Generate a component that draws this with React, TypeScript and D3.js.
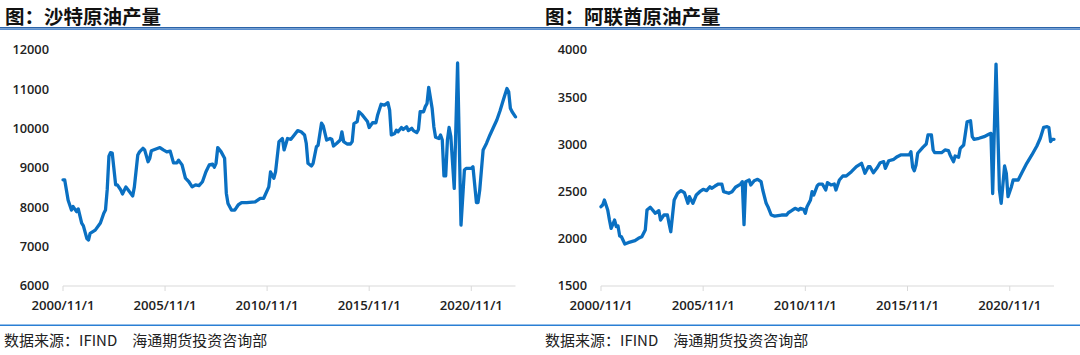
import React from "react";
import * as d3 from "d3";

// Month offsets from 2000/11 and values (千桶/日)
const saudiMonths = [0,1,3,5,6,8,9,11,12,14,15,16,19,22,24,25,26,27,28,29,31,32,34,35,37,39,41,42,44,45,47,48,50,51,52,57,59,61,63,65,67,68,70,72,74,76,78,80,82,84,86,88,89,90,91,93,95,96,97,99,101,103,105,108,113,116,118,121,122,124,125,127,129,130,132,134,136,138,140,142,143,144,146,147,149,150,152,153,155,157,158,159,161,163,164,165,167,169,170,171,173,174,176,179,180,182,184,185,187,189,191,192,193,195,196,197,199,200,202,203,205,206,208,209,210,212,213,214,215,217,218,219,221,222,223,224,225,226,227,228,230,232,234,236,237,240,241,243,244,245,247,249,251,253,255,257,259,261,262,263,264,266];
const saudiValues = [8700,8700,8180,7930,8020,7890,7960,7600,7530,7210,7170,7340,7420,7600,7850,7930,8450,9300,9390,9380,8570,8570,8440,8340,8520,8400,8290,8520,9330,9410,9500,9460,9160,9250,9440,9520,9460,9410,9430,9130,9130,9200,9080,8740,8650,8520,8570,8550,8650,8900,9080,9100,9020,9120,9520,9410,9250,8360,8100,7930,7930,8060,8120,8120,8140,8230,8230,8520,8900,8740,8900,9670,9750,9460,9750,9730,9840,9950,9920,9840,9630,9120,9050,9120,9540,9580,10140,10070,9710,9750,9730,9560,9630,9710,9920,9670,9610,9610,9670,10130,10180,10430,10350,10180,10030,10150,10150,10350,10620,10600,10660,10470,9840,9880,9960,9920,10030,9980,10050,9950,10010,9950,9900,9980,10430,10430,10560,10640,11050,10520,10050,9780,9750,9840,9710,8800,8800,9710,10030,9800,8480,11670,7550,8950,8990,8990,9030,8120,8120,8440,9460,9630,9840,10030,10220,10460,10750,11020,10940,10520,10430,10300];

const uaeMonths = [0,1,2,4,5,6,8,9,10,11,12,14,16,20,22,24,26,27,29,32,34,35,37,39,40,41,43,45,47,49,51,52,54,56,58,60,62,64,65,67,69,71,72,75,77,79,82,83,84,85,87,88,90,92,94,95,97,98,100,102,106,109,110,112,114,116,117,119,120,121,123,124,125,127,128,130,132,133,135,137,138,140,142,144,147,150,153,154,155,157,158,160,162,164,166,167,169,172,174,176,181,182,183,184,185,186,189,191,192,194,195,196,200,202,204,205,207,208,210,211,213,215,217,218,219,222,225,228,229,230,232,234,235,237,238,239,241,242,245,247,250,253,256,258,260,262,263,264,265,266];
const uaeValues = [2340,2358,2411,2305,2199,2111,2199,2130,2136,2030,2022,1945,1959,1980,2005,2022,2093,2305,2334,2270,2298,2199,2252,2252,2164,2075,2411,2482,2510,2488,2376,2446,2376,2464,2499,2524,2510,2552,2535,2559,2580,2580,2499,2482,2499,2546,2580,2605,2150,2605,2623,2570,2615,2630,2605,2517,2376,2340,2252,2241,2252,2252,2276,2298,2323,2305,2323,2312,2270,2340,2411,2499,2464,2560,2580,2580,2517,2594,2570,2580,2517,2623,2665,2665,2711,2764,2800,2747,2694,2764,2764,2700,2747,2806,2817,2747,2827,2842,2870,2888,2888,2923,2757,2721,2782,2906,2969,3004,3100,3100,2941,2912,2912,2941,2933,2888,2817,2877,2863,2958,2994,3240,3251,3082,3054,3065,3082,3110,3117,2480,3850,2517,2376,2771,2694,2446,2552,2623,2623,2694,2800,2888,2983,3065,3181,3188,3180,3030,3054,3054];

const saudiTicks = [6000, 7000, 8000, 9000, 10000, 11000, 12000];
const uaeTicks = [1500, 2000, 2500, 3000, 3500, 4000];
const xTickLabels = ["2000/11/1", "2005/11/1", "2010/11/1", "2015/11/1", "2020/11/1"];
const titles = ["图：沙特原油产量", "图：阿联酋原油产量"];
const footer = "数据来源：IFIND　海通期货投资咨询部";

const START = new Date(2000, 10, 1);
const END = new Date(2023, 0, 1);
const LINE_COLOR = "#0a70c2";
const AXIS_COLOR = "#d9d9d9";
const LABEL_FONT = "'Open Sans', 'DejaVu Sans', sans-serif";
const CJK_FONT = "'Noto Sans CJK SC', sans-serif";

function parseTick(s: string) {
  const [y, m, d] = s.split("/").map(Number);
  return new Date(y, m - 1, d);
}

type PanelProps = {
  x0: number;
  x1: number;
  months: number[];
  values: number[];
  ticks: number[];
  title: string;
  titleX: number;
};

function Panel({ x0, x1, months, values, ticks, title, titleX }: PanelProps) {
  const x = d3.scaleTime().domain([START, END]).range([x0, x1]);
  const y = d3
    .scaleLinear()
    .domain([ticks[0], ticks[ticks.length - 1]])
    .range([286, 50]);
  const pts: [Date, number][] = months.map((m, i) => [d3.timeMonth.offset(START, m), values[i]]);
  const line = d3
    .line<[Date, number]>()
    .x((d) => x(d[0]))
    .y((d) => y(d[1]));
  return (
    <g>
      <text x={titleX} y={24} fontFamily={CJK_FONT} fontWeight={700} fontSize={19.5} fill="#111">
        {title}
      </text>
      {ticks.map((t) => (
        <text
          key={t}
          x={x0 - 14}
          y={y(t)}
          dy="0.35em"
          textAnchor="end"
          fontFamily={LABEL_FONT}
          fontWeight={600}
          fontSize={12.8}
          fill="#222"
        >
          {t}
        </text>
      ))}
      <line x1={x0} x2={x1} y1={286} y2={286} stroke={AXIS_COLOR} strokeWidth={1} />
      {xTickLabels.map((s) => {
        const tx = x(parseTick(s));
        return (
          <g key={s}>
            <line x1={tx} x2={tx} y1={286} y2={291} stroke={AXIS_COLOR} strokeWidth={1} />
            <text
              x={tx}
              y={305}
              dy="0.35em"
              textAnchor="middle"
              fontFamily={LABEL_FONT}
              fontWeight={600}
              fontSize={13.2}
              fill="#222"
            >
              {s}
            </text>
          </g>
        );
      })}
      <path d={line(pts) || ""} fill="none" stroke={LINE_COLOR} strokeWidth={3.3} strokeLinejoin="round" strokeLinecap="round" />
    </g>
  );
}

export default function App() {
  return (
    <svg
      width={1080}
      height={355}
      style={{ position: "absolute", left: 0, top: 0, display: "block", background: "#fff" }}
    >
      <rect x={0} y={0} width={1080} height={355} fill="#fff" />
      <Panel x0={63} x1={515.5} months={saudiMonths} values={saudiValues} ticks={saudiTicks} title={titles[0]} titleX={5} />
      <Panel x0={601} x1={1054} months={uaeMonths} values={uaeValues} ticks={uaeTicks} title={titles[1]} titleX={545} />
      <rect x={0} y={27} width={1080} height={1.5} fill="#2b63a8" />
      <rect x={0} y={28.5} width={1080} height={1.5} fill="#5a8fd0" />
      <rect x={0} y={324.5} width={1080} height={1.5} fill="#2a7fd4" />
      <text x={4} y={341} dy="0.35em" fontFamily={CJK_FONT} fontSize={15} fill="#222">
        {footer}
      </text>
      <text x={545} y={341} dy="0.35em" fontFamily={CJK_FONT} fontSize={15} fill="#222">
        {footer}
      </text>
    </svg>
  );
}
